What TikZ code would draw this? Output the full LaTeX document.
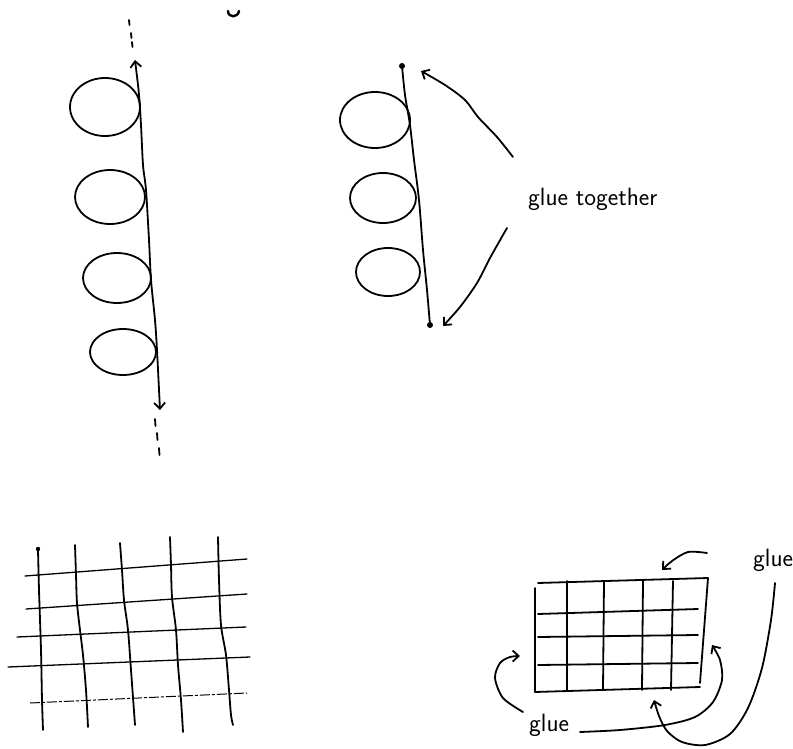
\documentclass[tikz,border=0pt]{standalone}
\usetikzlibrary{arrows.meta}
\begin{document}
\begin{tikzpicture}[x=1pt,y=-1pt,
  ink/.style={line width=1.8pt,line cap=round,line join=round},
  thin ink/.style={line width=1.3pt,line cap=round},
  faint ink/.style={line width=1pt,dash pattern=on 10pt off 2pt on 3pt off 2pt},
  barb/.style={-{Straight Barb[length=6pt,width=11pt]}},
  hand/.style={font=\sffamily\fontsize{25}{27}\selectfont,inner sep=0pt}]
\useasboundingbox (0,0) rectangle (793,749);
% fragment of letter at top
\draw[line width=2.4pt,line cap=round] (228,11) .. controls (228,18) and (238,18) .. (239,11);
% ---------- left strand ----------
\foreach \a/\b in {129/20,131/33,132/42}{\draw[ink] (\a,\b) -- ++(0.5,5);}
\foreach \a/\b in {155/419,157/433,159/448}{\draw[ink] (\a,\b) -- ++(0.5,7);}
\draw[ink,{Straight Barb[length=6pt,width=11pt]}-{Straight Barb[length=6pt,width=11pt]}]
  plot[smooth] coordinates {(135,60) (139,95) (141,125) (143,165) (146,190) (149,240) (151,280) (155,320) (157,350) (160,410)};
\draw[ink] (105,107) ellipse [x radius=35pt, y radius=29pt];
\draw[ink] (110,197) ellipse [x radius=35pt, y radius=27pt];
\draw[ink] (117,278) ellipse [x radius=34pt, y radius=25pt];
\draw[ink] (123,352) ellipse [x radius=33pt, y radius=23pt];
% ---------- middle strand ----------
\coordinate (topend) at (402,66);
\coordinate (botend) at (430,325);
\fill (topend) circle (3pt);
\fill (botend) circle (3pt);
\draw[ink] plot[smooth] coordinates {(402,66) (405,95) (410,125) (414,160) (419,200) (423,250) (427,290) (430,325)};
\draw[ink] (375,120) ellipse [x radius=35pt, y radius=28pt];
\draw[ink] (383,198) ellipse [x radius=33pt, y radius=25pt];
\draw[ink] (388,272) ellipse [x radius=32pt, y radius=24pt];
\node[hand,anchor=base west] (gt) at (528,206) {glue together};
\coordinate (gtA) at (513,157);
\coordinate (gtB) at (507,228);
\coordinate (tipA) at (421,71);
\coordinate (tipB) at (443,326);
\draw[ink,barb] plot[smooth] coordinates {(gtA) (497,137) (478,117) (465,100) (445,85) (tipA)};
\draw[ink,barb] plot[smooth] coordinates {(gtB) (490,258) (477,283) (460,307) (tipB)};
% ---------- lower left grid ----------
\fill (38,549) circle (2.2pt);
\draw[ink] plot[smooth] coordinates {(38,549) (39,590) (41,650) (42,700) (43,730)};
\draw[ink] plot[smooth] coordinates {(75,545) (76,575) (77,603) (80,630) (83,655) (86,690) (88,727)};
\draw[ink] plot[smooth] coordinates {(120,543) (122,570) (124,600) (128,630) (131,670) (135,725)};
\draw[ink] plot[smooth] coordinates {(170,537) (171,565) (172,597) (176,630) (178,665) (181,700) (183,732)};
\draw[ink] plot[smooth] coordinates {(218,537) (219,580) (221,625) (226,655) (229,690) (231,715) (233,725)};
\draw[thin ink] (25,576) -- (247,559);
\draw[thin ink] (26,609) -- (247,594);
\draw[thin ink] (17,637) -- (246,627);
\draw[thin ink] (8,667) -- (250,657);
\draw[faint ink] (30,703) -- (247,693);
% ---------- lower right grid ----------
\draw[ink] (538,583) -- (708,578);
\draw[ink] (535,588) -- (535,692);
\draw[ink] (535,692) -- (700,687);
\draw[ink] (708,578) -- (700,683);
\foreach \xa/\xb in {567/567,604/603,643/642,673/671}{\draw[ink] (\xa,581) -- (\xb,690);}
\draw[ink] (538,614) -- (698,609);
\draw[ink] (538,637) -- (698,635);
\draw[ink] (538,665) -- (698,663);
% labels
\node[hand,anchor=base west] (g1) at (753,566) {glue};
\node[hand,anchor=base west] (g2) at (529,731) {glue};
% arrows
\coordinate (a1s) at (707,553);
\coordinate (a1e) at (662,570);
\draw[ink,barb] plot[smooth] coordinates {(a1s) (688,552) (672,561) (a1e)};
\coordinate (a2s) at (775,583);
\coordinate (a2e) at (654,700);
\draw[ink,barb] plot[smooth] coordinates {(a2s) (771,620) (762,668) (748,708) (730,734) (705,745) (682,742) (667,731) (659,716) (a2e)};
\coordinate (a3s) at (523,712);
\coordinate (a3e) at (520,656);
\draw[ink,barb] plot[smooth] coordinates {(a3s) (503,698) (495,678) (500,663) (510,657) (a3e)};
\coordinate (a4s) at (580,732);
\coordinate (a4e) at (712,645);
\draw[ink,barb] plot[smooth] coordinates {(a4s) (620,730) (665,725) (695,717) (713,702) (722,680) (720,660) (a4e)};
\end{tikzpicture}
\end{document}
